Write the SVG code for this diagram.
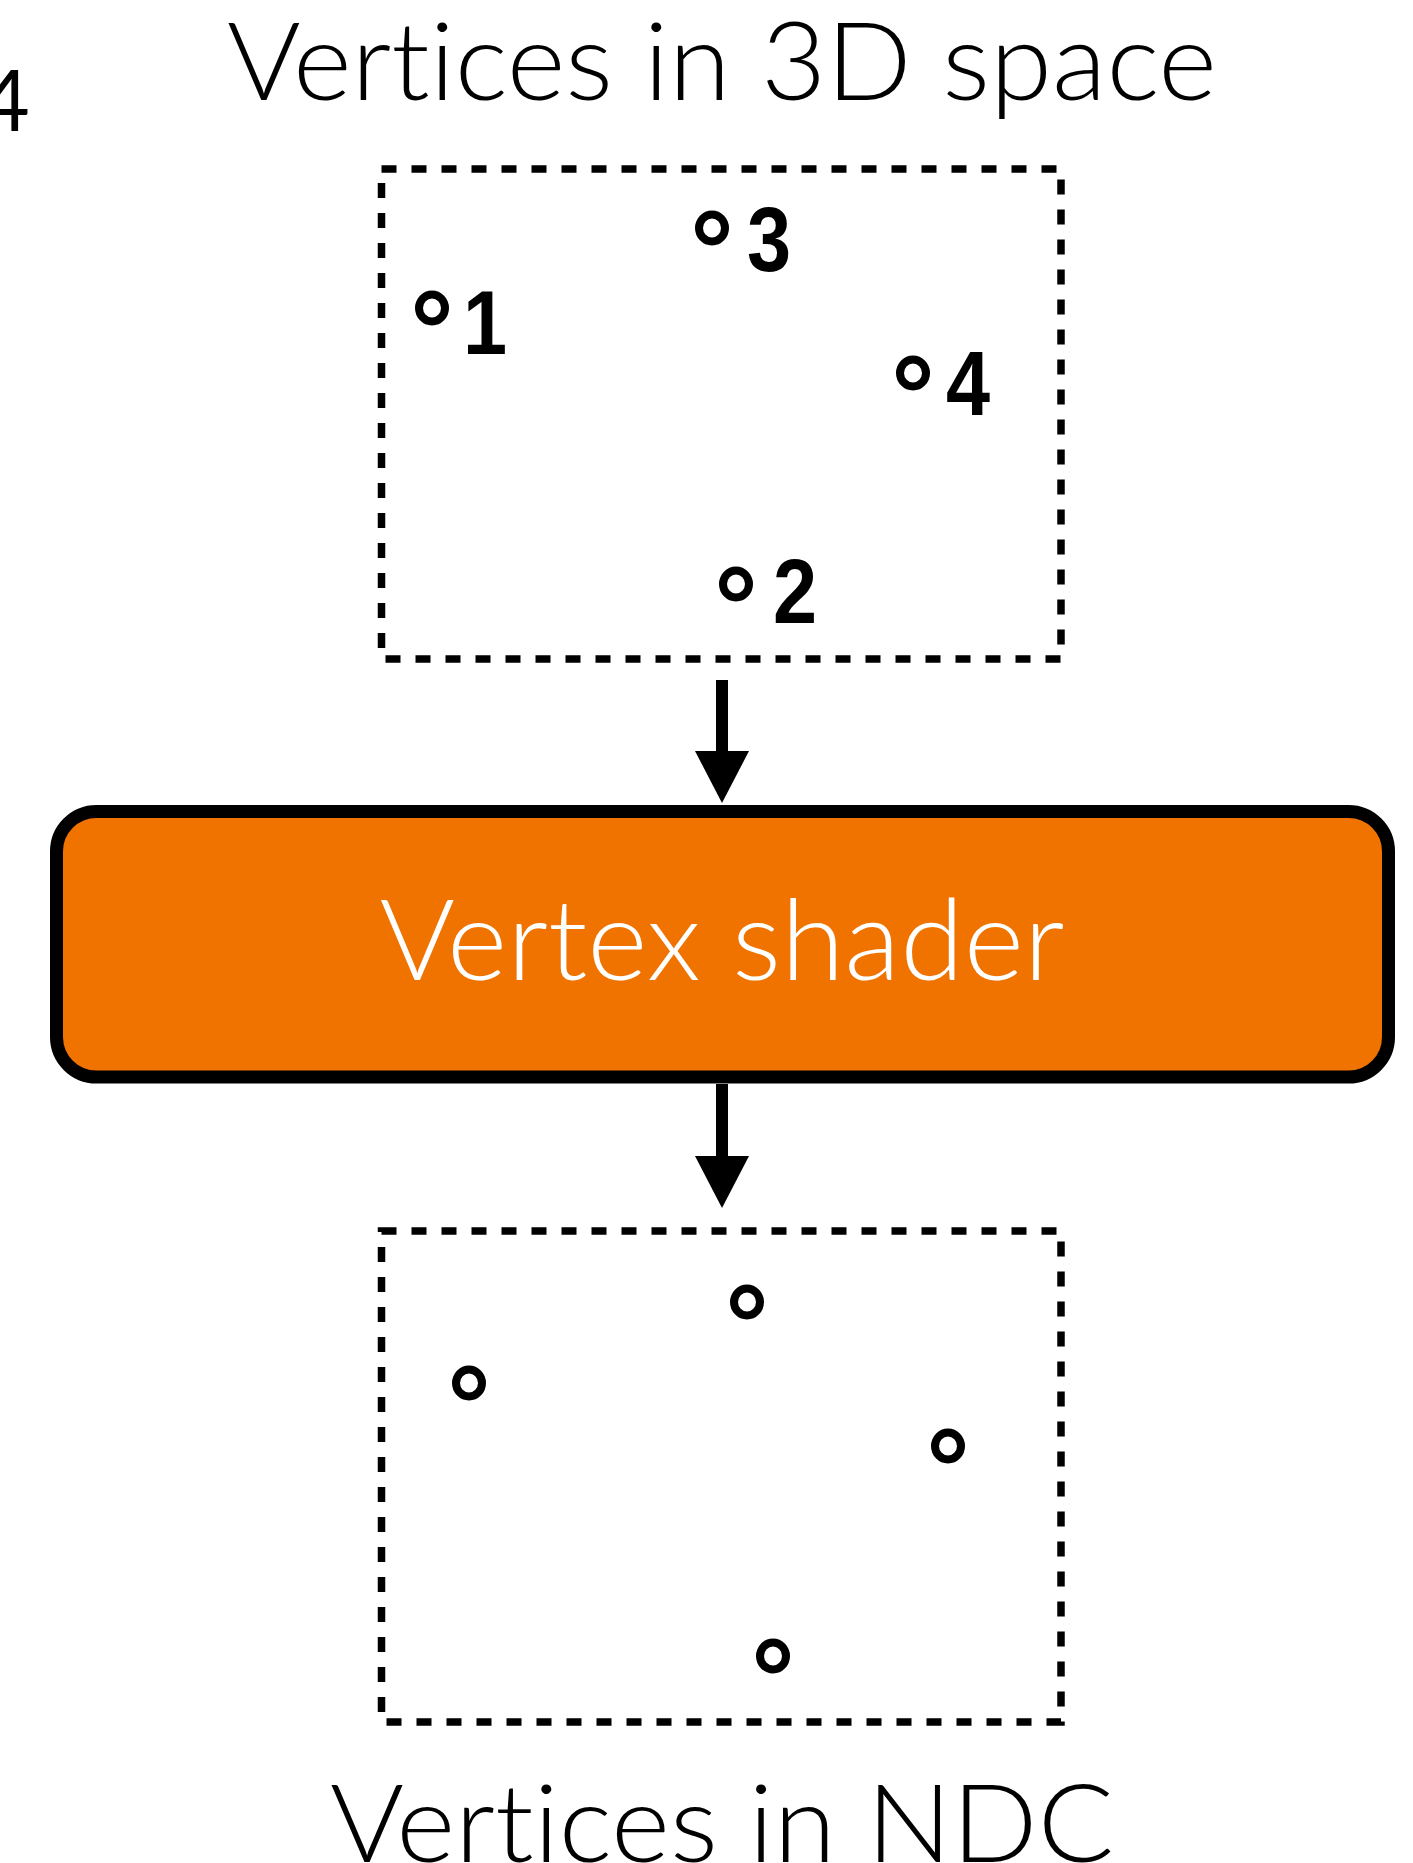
<svg xmlns="http://www.w3.org/2000/svg" width="1413" height="1863" viewBox="0 0 1413 1863">
<style>
.title{font-family:Lato,"Liberation Sans",sans-serif;font-weight:300;font-size:109px;fill:#000;font-variant-ligatures:none;}
.label{font-family:Lato,"Liberation Sans",sans-serif;font-weight:300;font-size:112px;fill:#fff;font-variant-ligatures:none;}
.num{font-family:"Liberation Sans",Arial,sans-serif;font-weight:bold;font-size:90px;fill:#000;}
.frame{fill:none;stroke:#000;stroke-width:7.5;stroke-dasharray:15 15;}
.pt{fill:none;stroke:#000;stroke-width:8;}
.conn{stroke:#000;stroke-width:12;fill:none;}
</style>
<defs>
<marker id="ah" markerUnits="userSpaceOnUse" viewBox="0 0 52 54" refX="9" refY="27" markerWidth="52" markerHeight="54" orient="auto">
<path d="M0,0 L52,27 L0,54 Z" fill="#000"/>
</marker>
</defs>
<rect width="1413" height="1863" fill="#fff"/>
<text x="-20" y="131" style="font-family:Lato,'Liberation Sans',sans-serif;font-weight:400;font-size:86px;fill:#000">4</text>
<g id="title-top"><text class="title" x="722" y="100" text-anchor="middle" textLength="990" lengthAdjust="spacingAndGlyphs">Vertices in 3D space</text></g>
<g id="input-vertices">
<rect class="frame" x="381.5" y="169" width="679.5" height="490"/>
<ellipse class="pt" cx="712" cy="228" rx="13" ry="13.5"/>
<ellipse class="pt" cx="432" cy="308" rx="13" ry="13.5"/>
<ellipse class="pt" cx="913" cy="373" rx="13" ry="13.5"/>
<ellipse class="pt" cx="736" cy="584" rx="13" ry="13.5"/>
<text class="num" transform="translate(747 271) scale(0.88 1)">3</text>
<text class="num" transform="translate(463 354) scale(0.88 1)">1</text>
<text class="num" transform="translate(946 415) scale(0.88 1)">4</text>
<text class="num" transform="translate(773 623) scale(0.88 1)">2</text>
</g>
<g id="vertex-shader">
<rect x="56.5" y="811.5" width="1332" height="265.5" rx="40" ry="40" fill="#F07300" stroke="#000" stroke-width="13"/>
<text class="label" x="722" y="980" text-anchor="middle" textLength="685" lengthAdjust="spacingAndGlyphs">Vertex shader</text>
</g>
<g id="output-vertices">
<rect class="frame" x="381.5" y="1231" width="679.5" height="491"/>
<ellipse class="pt" cx="747" cy="1302" rx="13" ry="13.5"/>
<ellipse class="pt" cx="469" cy="1383" rx="13" ry="13.5"/>
<ellipse class="pt" cx="948" cy="1446" rx="13" ry="13.5"/>
<ellipse class="pt" cx="773" cy="1656" rx="13" ry="13.5"/>
</g>
<g id="title-bottom"><text class="title" x="722" y="1862" text-anchor="middle" textLength="784" lengthAdjust="spacingAndGlyphs">Vertices in NDC</text></g>
<g id="connectors">
<line class="conn" x1="722" y1="680" x2="722" y2="760" marker-end="url(#ah)"/>
<line class="conn" x1="722" y1="1084" x2="722" y2="1165" marker-end="url(#ah)"/>
</g>
</svg>
